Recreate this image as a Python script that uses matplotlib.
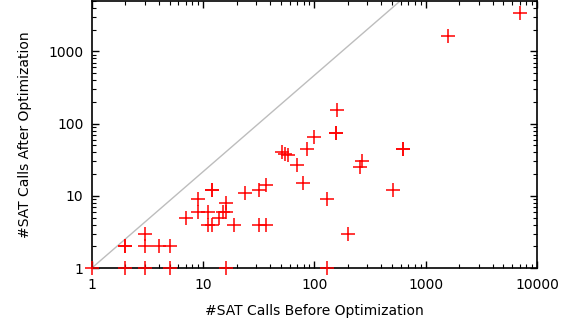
import matplotlib
matplotlib.use("Agg")
import matplotlib.pyplot as plt
from matplotlib.ticker import LogLocator, FixedLocator, FixedFormatter, NullFormatter

# #SAT calls per benchmark
before = [1, 2, 2, 2, 3, 3, 3, 4, 5, 5, 7, 9, 9, 11, 11, 12, 12, 12,
          14, 15, 16, 16, 16, 19, 24, 32, 32, 37, 37, 51, 55, 58, 70,
          79, 86, 100, 130, 130, 155, 155, 160, 200, 256, 270, 510, 630,
          630, 1600, 7000]
after = [1, 1, 2, 2, 1, 2, 3, 2, 1, 2, 5, 6, 9, 6, 4, 4, 12, 12,
         5, 6, 6, 8, 1, 4, 11, 4, 12, 4, 14, 40, 38, 37, 27,
         15, 44, 66, 9, 1, 74, 74, 155, 3, 25, 30, 12, 45,
         45, 1630, 3370]

# reference line
diag_x = [1, 590]
diag_y = [1, 5000]

x_ticks = [1, 10, 100, 1000, 10000]
x_ticklabels = ["1", "10", "100", "1000", "10000"]
y_ticks = [1, 10, 100, 1000]
y_ticklabels = ["1", "10", "100", "1000"]

fig = plt.figure(figsize=(5.7, 3.23), dpi=100)
ax = fig.add_axes([0.161, 0.170, 0.781, 0.827])

ax.plot(diag_x, diag_y, color="#bdbdbd", lw=1, zorder=1)
ax.plot(before, after, ls="none", marker="+", ms=10, mew=1.1,
        color="red", zorder=3, clip_on=False)

ax.set_xscale("log")
ax.set_yscale("log")
ax.set_xlim(1, 10000)
ax.set_ylim(1, 5000)

ax.xaxis.set_major_locator(FixedLocator(x_ticks))
ax.xaxis.set_major_formatter(FixedFormatter(x_ticklabels))
ax.yaxis.set_major_locator(FixedLocator(y_ticks))
ax.yaxis.set_major_formatter(FixedFormatter(y_ticklabels))
ax.xaxis.set_minor_locator(LogLocator(base=10, subs=range(2, 10)))
ax.yaxis.set_minor_locator(LogLocator(base=10, subs=range(2, 10)))
ax.xaxis.set_minor_formatter(NullFormatter())
ax.yaxis.set_minor_formatter(NullFormatter())

ax.tick_params(which="both", direction="in", top=True, right=True,
               labelsize=10, colors="black")
ax.tick_params(which="major", length=5, width=1)
ax.tick_params(which="minor", length=3, width=0.8)
ax.tick_params(axis="x", pad=7)
ax.tick_params(axis="y", pad=6)

for s in ax.spines.values():
    s.set_linewidth(1.2)

ax.set_xlabel("#SAT Calls Before Optimization", fontsize=10, labelpad=9)
ax.set_ylabel("#SAT Calls After Optimization", fontsize=10, labelpad=12)

fig.savefig("out.png", dpi=100)
